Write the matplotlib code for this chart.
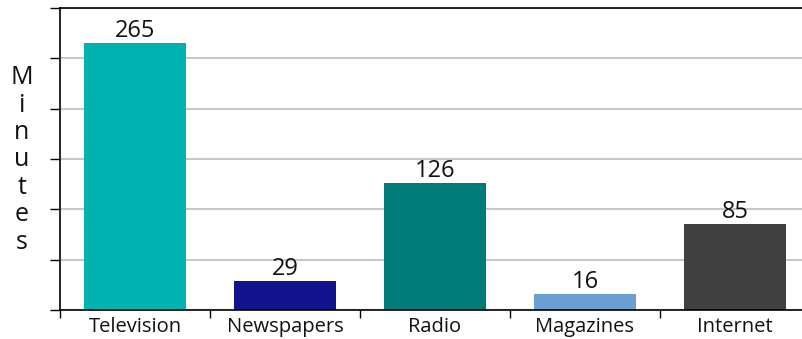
import numpy as np
import matplotlib.pyplot as plt

categories = ["Television", "Newspapers", "Radio", "Magazines", "Internet"]
minutes = [265, 29, 126, 16, 85]
colors = ["#00B2B0", "#12128C", "#007B78", "#6B9FD3", "#404040"]

plt.rcParams['font.family'] = ['Open Sans', 'DejaVu Sans']

fig = plt.figure(figsize=(8.03, 3.39), dpi=100)
ax = fig.add_axes([60 / 803, 29 / 339, 750 / 803, 302 / 339])

x = np.arange(len(categories))
ax.bar(x, minutes, width=0.68, color=colors, zorder=2)

for xi, v in zip(x, minutes):
    ax.annotate(str(v), (xi, v), xytext=(0, 0), textcoords="offset points",
                ha="center", va="bottom", fontsize=17, color="#111111")

ax.set_xlim(-0.5, len(categories) - 0.5)
ax.set_ylim(0, 300)

# y: ticks every 50, no labels, gray gridlines
ax.set_yticks(np.arange(0, 301, 50))
ax.set_yticklabels([])
ax.tick_params(axis="y", direction="out", length=7.5, width=1, color="black")
ax.grid(axis="y", color="#C8C8C8", linewidth=1.5, zorder=0)

# x: category labels centered, ticks at boundaries
ax.set_xticks(x)
ax.set_xticklabels(categories, fontsize=14.5, color="#111111")
ax.tick_params(axis="x", length=0, pad=5)
ax.set_xticks(np.arange(-0.5, len(categories), 1), minor=True)
ax.tick_params(axis="x", which="minor", direction="out", length=5.5, width=1, color="black")

for s in ["left", "top", "bottom"]:
    ax.spines[s].set_color("black")
    ax.spines[s].set_linewidth(1.2)
ax.spines["right"].set_visible(False)

fig.text(22 / 803, 1 - 160 / 339, "\n".join("Minutes"), ha="center", va="center",
         fontsize=18, linespacing=1.13, color="#111111")

fig.savefig("out.png", dpi=100)
